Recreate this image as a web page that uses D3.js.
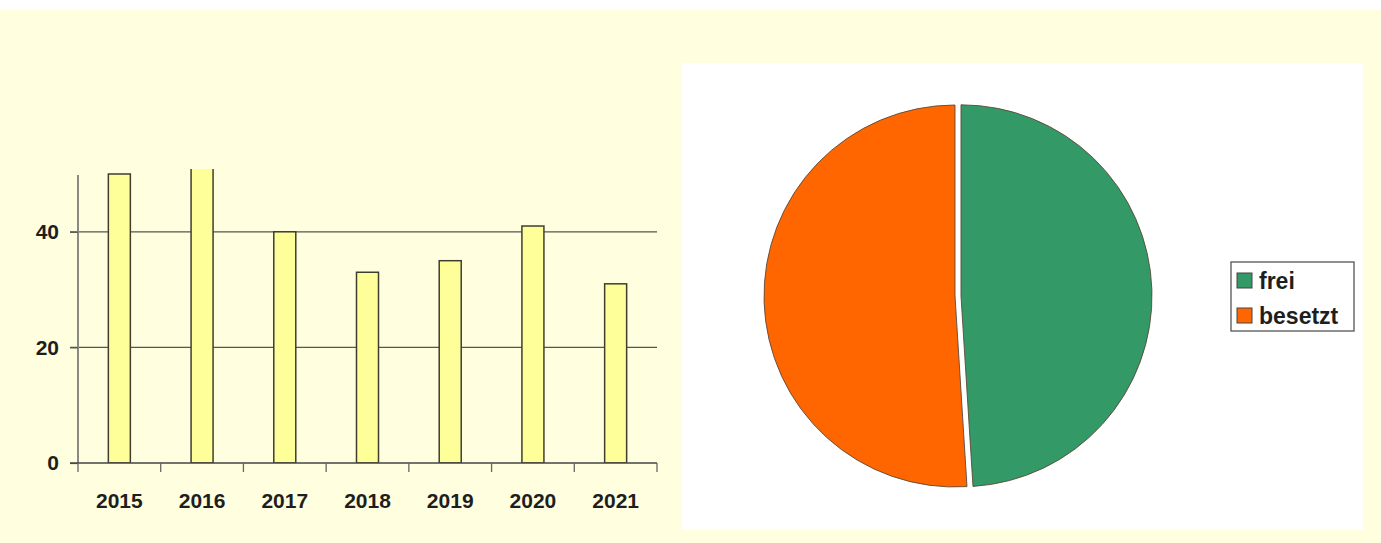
<!DOCTYPE html>
<html lang="de">
  <head>
    <meta charset="utf-8" />
    <script src="https://d3js.org/d3.v7.min.js"></script>
    <style>
      body { margin: 0; background: #fff; }
      svg { display: block; font-family: "Liberation Sans", Arial, sans-serif; }
    </style>
  </head>
  <body>
    <div id="chart"></div>
    <script>
      // data
      var years = ["2015", "2016", "2017", "2018", "2019", "2020", "2021"];
      var counts = [50, 52, 40, 33, 35, 41, 31];
      var yTicks = [0, 20, 40];
      var pieLabels = ["frei", "besetzt"];
      var pieValues = [49, 51];
      var pieColors = ["#339966", "#ff6600"];

      var width = 1381, height = 543;

      var svg = d3.select("#chart")
        .append("svg")
        .attr("width", width)
        .attr("height", height);

      // background
      svg.append("rect").attr("x", 0).attr("y", 10)
        .attr("width", width).attr("height", height - 10)
        .attr("fill", "#ffffe0");

      // ---- bar chart ----
      var bx = d3.scaleBand().domain(years).range([78, 657]).paddingInner(0).paddingOuter(0);
      var by = d3.scaleLinear().domain([0, 50]).range([463, 174]);

      var bars = svg.append("g");

      bars.append("defs").append("clipPath").attr("id", "plotclip")
        .append("rect")
        .attr("x", 78).attr("y", by(50) - 5)
        .attr("width", 580).attr("height", by(0) - by(50) + 5);

      // gridlines
      bars.append("g")
        .selectAll("line")
        .data(yTicks.filter(function (d) { return d > 0; }))
        .enter().append("line")
        .attr("x1", 70).attr("x2", 657)
        .attr("y1", function (d) { return by(d); })
        .attr("y2", function (d) { return by(d); })
        .attr("stroke", "#555").attr("stroke-width", 1.2);

      var barW = 22;
      bars.append("g")
        .attr("clip-path", "url(#plotclip)")
        .selectAll("rect")
        .data(counts)
        .enter().append("rect")
        .attr("x", function (d, i) { return bx(years[i]) + bx.bandwidth() / 2 - barW / 2; })
        .attr("y", function (d) { return by(d); })
        .attr("width", barW)
        .attr("height", function (d) { return by(0) - by(d); })
        .attr("fill", "#ffff99")
        .attr("stroke", "#3e3e30")
        .attr("stroke-width", 1.5);

      // y axis
      var yAxis = bars.append("g")
        .attr("transform", "translate(78,0)")
        .call(d3.axisLeft(by).tickValues(yTicks).tickSize(8).tickPadding(11));
      yAxis.select(".domain").attr("d", "M0," + (by(50) + 1) + "V" + by(0))
        .attr("stroke", "#8a8a80").attr("stroke-width", 2);
      yAxis.selectAll(".tick line").attr("stroke", "#555").attr("stroke-width", 1.2);
      yAxis.selectAll(".tick text")
        .attr("font-size", 21).attr("font-weight", "bold").attr("fill", "#1e1e1e")
        .attr("font-family", "'Liberation Sans', Arial, sans-serif");

      // x axis
      var xAxis = bars.append("g")
        .attr("transform", "translate(0,463)")
        .call(d3.axisBottom(bx).tickSize(0).tickPadding(30));
      xAxis.select(".domain").remove();
      xAxis.append("line").attr("x1", 70).attr("x2", 657)
        .attr("stroke", "#444").attr("stroke-width", 1.5);
      xAxis.selectAll(".sep")
        .data(years.concat([""]))
        .enter().append("line")
        .attr("class", "sep")
        .attr("x1", function (d, i) { return i < years.length ? bx(d) : bx.range()[1]; })
        .attr("x2", function (d, i) { return i < years.length ? bx(d) : bx.range()[1]; })
        .attr("y1", 0).attr("y2", 9)
        .attr("stroke", "#666").attr("stroke-width", 1.3);
      xAxis.selectAll(".tick text")
        .attr("font-size", 21).attr("font-weight", "bold").attr("fill", "#1e1e1e")
        .attr("font-family", "'Liberation Sans', Arial, sans-serif");

      // ---- pie chart ----
      svg.append("rect").attr("x", 682).attr("y", 63)
        .attr("width", 681).attr("height", 467).attr("fill", "#ffffff");

      var cx = 955, cy = 296, r = 191;
      var pie = d3.pie().sort(null).value(function (d) { return d; });
      var arc = d3.arc().innerRadius(0).outerRadius(r);
      var explode = [6, 0];

      svg.append("g")
        .attr("transform", "translate(" + cx + "," + cy + ")")
        .selectAll("path")
        .data(pie(pieValues))
        .enter().append("path")
        .attr("d", arc)
        .attr("transform", function (d, i) {
          var a = (d.startAngle + d.endAngle) / 2;
          return "translate(" + (Math.sin(a) * explode[i]) + "," + (-Math.cos(a) * explode[i]) + ")";
        })
        .attr("fill", function (d, i) { return pieColors[i]; })
        .attr("stroke", "#5a4a3a")
        .attr("stroke-width", 0.9);

      // legend
      var lg = svg.append("g").attr("transform", "translate(1231,262)");
      lg.append("rect").attr("width", 123).attr("height", 69)
        .attr("fill", "#fff").attr("stroke", "#555").attr("stroke-width", 1.3);
      var items = lg.selectAll(".item")
        .data(pieLabels)
        .enter().append("g")
        .attr("class", "item")
        .attr("transform", function (d, i) { return "translate(6," + (11 + i * 35) + ")"; });
      items.append("rect")
        .attr("width", 15).attr("height", 15)
        .attr("fill", function (d, i) { return pieColors[i]; })
        .attr("stroke", "#444").attr("stroke-width", 1);
      items.append("text")
        .attr("x", 22).attr("y", 15.5)
        .attr("font-size", 23).attr("font-weight", "bold").attr("fill", "#1e1e1e")
        .text(function (d) { return d; });
    </script>
  </body>
</html>
